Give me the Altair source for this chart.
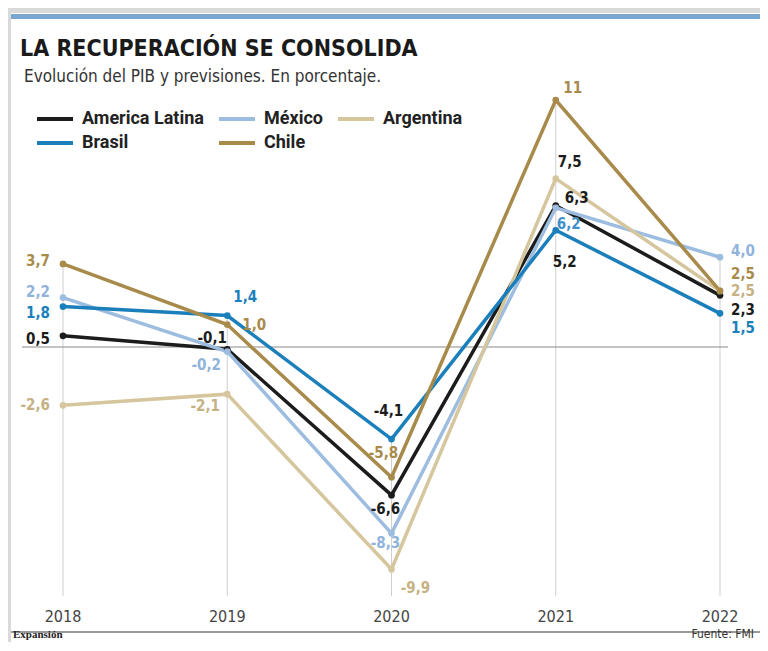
import altair as alt
import pandas as pd

# ---------------- data ----------------
YEARS = [2018, 2019, 2020, 2021, 2022]
SERIES = ["America Latina", "México", "Argentina", "Brasil", "Chile"]
AMERICA_LATINA = [0.5, -0.1, -6.6, 6.3, 2.3]
MEXICO = [2.2, -0.2, -8.3, 6.2, 4.0]
ARGENTINA = [-2.6, -2.1, -9.9, 7.5, 2.5]
BRASIL = [1.8, 1.4, -4.1, 5.2, 1.5]
CHILE = [3.7, 1.0, -5.8, 11.0, 2.5]
YEAR_LABELS = ["2018", "2019", "2020", "2021", "2022"]

TITLE = "LA RECUPERACIÓN SE CONSOLIDA"
SUBTITLE = "Evolución del PIB y previsiones. En porcentaje."
SOURCE = "Fuente: FMI"
BRAND = "Expansión"

# ---------------- styles ----------------
SERIES_COLORS = {"America Latina": "#1c1c1c", "México": "#9dbde0",
                 "Argentina": "#d6c69e", "Brasil": "#1b7fbb", "Chile": "#a88b4b"}
# legend order so that the 3-column grid reads like the reference
LEGEND_ORDER = ["America Latina", "Brasil", "México", "Chile", "Argentina"]
LABEL_COLORS = {"America Latina": "#1c1c1c", "México": "#8fb3db",
                "Argentina": "#c5b182", "Brasil": "#1b7fbb", "Chile": "#a88b4b"}
# label placement (pixel offsets from point, alignment, optional color override)
LAYOUT = {
    ("America Latina", 2018): (-13, 3, "right", None),
    ("México", 2018): (-13, -6, "right", None),
    ("Argentina", 2018): (-13, 0, "right", None),
    ("Brasil", 2018): (-13, 6, "right", None),
    ("Chile", 2018): (-13, -3, "right", None),
    ("America Latina", 2019): (-15, -11, "center", None),
    ("México", 2019): (-21, 14, "center", None),
    ("Argentina", 2019): (-22, 12, "center", None),
    ("Brasil", 2019): (18, -19, "center", None),
    ("Chile", 2019): (27, 0, "center", None),
    ("America Latina", 2020): (-6, 14, "center", None),
    ("México", 2020): (-6, 10, "center", None),
    ("Argentina", 2020): (24, 19, "center", None),
    ("Brasil", 2020): (-3, -28, "center", "#1c1c1c"),
    ("Chile", 2020): (-8, -24, "center", None),
    ("America Latina", 2021): (21, -8, "center", None),
    ("México", 2021): (13, 16, "center", "#3f8fc9"),
    ("Argentina", 2021): (14, -17, "center", "#1c1c1c"),
    ("Brasil", 2021): (9, 32, "center", "#1c1c1c"),
    ("Chile", 2021): (17, -12, "center", None),
    ("America Latina", 2022): (11, 15, "left", None),
    ("México", 2022): (11, -6, "left", None),
    ("Argentina", 2022): (11, 0, "left", None),
    ("Brasil", 2022): (11, 15, "left", None),
    ("Chile", 2022): (11, -17, "left", None),
}

FONT = "Liberation Sans Narrow, DejaVu Sans Condensed, sans-serif"
W, H = 752, 634

values = {"America Latina": AMERICA_LATINA, "México": MEXICO,
          "Argentina": ARGENTINA, "Brasil": BRASIL, "Chile": CHILE}

rows = []
for s in SERIES:
    for y, v in zip(YEARS, values[s]):
        txt = f"{int(v)}" if abs(v) >= 10 and v == int(v) else f"{v:.1f}".replace(".", ",")
        dx, dy, al, col = LAYOUT[(s, y)]
        rows.append({"serie": s, "year": y, "value": v, "label": txt,
                     "dx": dx, "dy": dy, "align": al,
                     "lcolor": col if col else LABEL_COLORS[s]})
df = pd.DataFrame(rows)
years_df = pd.DataFrame({"year": YEARS, "label": YEAR_LABELS, "zero": [0] * len(YEARS)})

xscale = alt.Scale(domain=[2018 - 55 / 164.25, 2018 + (W - 55) / 164.25], nice=False, zero=False)
yscale = alt.Scale(domain=[-(H - 339) / 22.45, 339 / 22.45], nice=False, zero=False)
X = alt.X("year:Q", scale=xscale, axis=None)
Y = alt.Y("value:Q", scale=yscale, axis=None)
cscale = alt.Scale(domain=LEGEND_ORDER, range=[SERIES_COLORS[s] for s in LEGEND_ORDER])
color = alt.Color("serie:N", scale=cscale,
                  legend=alt.Legend(orient="none", legendX=36, legendY=100, columns=3,
                                    symbolType="M-2,0L2,0", symbolSize=324,
                                    symbolStrokeWidth=4, symbolFillColor="transparent",
                                    labelFontSize=18,
                                    labelFont="Roboto", labelFontWeight="bold",
                                    labelColor="#222222", columnPadding=7,
                                    rowPadding=4, labelOffset=16, title=None))

base = alt.Chart(df)
one = alt.Chart(pd.DataFrame({"k": [0]}))

# frame decorations
frame_top = one.mark_rect(color="#d9d9d9").encode(
    x=alt.value(0), x2=alt.value(W), y=alt.value(0), y2=alt.value(5))
frame_left = one.mark_rect(color="#d9d9d9").encode(
    x=alt.value(0), x2=alt.value(3), y=alt.value(0), y2=alt.value(H))
blue_bar = one.mark_rect(color="#79a7d1").encode(
    x=alt.value(3), x2=alt.value(W), y=alt.value(6), y2=alt.value(11))
bottom_line = one.mark_rule(color="#9a9a9a", strokeWidth=2).encode(
    x=alt.value(3), x2=alt.value(W), y=alt.value(624))

title = one.mark_text(align="left", baseline="alphabetic", font=FONT,
                      fontSize=23, fontWeight="bold", color="#1a1a1a").encode(
    x=alt.value(12), y=alt.value(48), text=alt.value(TITLE))
subtitle = one.mark_text(align="left", baseline="alphabetic", font=FONT,
                         fontSize=17, color="#333333").encode(
    x=alt.value(16), y=alt.value(74), text=alt.value(SUBTITLE))
brand = one.mark_text(align="left", baseline="alphabetic", font="Liberation Serif",
                      fontSize=11, fontWeight="bold", color="#222222").encode(
    x=alt.value(5), y=alt.value(630), text=alt.value(BRAND))
source = one.mark_text(align="right", baseline="alphabetic", font=FONT,
                       fontSize=12, color="#333333").encode(
    x=alt.value(W - 6), y=alt.value(630), text=alt.value(SOURCE))

# vertical drop lines from the highest value of each year
drops = base.mark_rule(color="#cfcfcf", strokeWidth=1).encode(
    x=X, y=alt.Y("max(value):Q", scale=yscale, axis=None), y2=alt.value(588))
zero = alt.Chart(years_df).mark_rule(color="#8a8a8a", strokeWidth=1.2).encode(
    y=alt.Y("max(zero):Q", scale=yscale, axis=None), x=alt.value(14), x2=alt.value(720))

lines = base.mark_line(strokeWidth=3.5).encode(
    x=X, y=Y, color=color, order=alt.Order("year:Q"))
points = base.mark_circle(size=45, opacity=1).encode(
    x=X, y=Y, color=alt.Color("serie:N", scale=cscale, legend=None))

labels = base.mark_text(
    align=alt.ExprRef(expr="datum.align"), baseline="middle", font=FONT, fontSize=15,
    fontWeight="bold", dx=alt.ExprRef(expr="datum.dx"), dy=alt.ExprRef(expr="datum.dy")).encode(
    x=X, y=Y, text="label:N", color=alt.Color("lcolor:N", scale=None))

year_text = alt.Chart(years_df).mark_text(font=FONT, fontSize=16, color="#444444",
                                          baseline="middle").encode(
    x=X, y=alt.value(609), text="label:N")

chart = alt.layer(
    frame_top, frame_left, blue_bar, drops, zero, lines, points, labels,
    year_text, bottom_line, title, subtitle, brand, source
).properties(width=W, height=H, autosize=alt.AutoSizeParams(type="none"), padding=0
).configure_view(stroke=None).configure(background="#ffffff")

chart.save("out.html", embed_options={"renderer": "svg", "actions": False})
